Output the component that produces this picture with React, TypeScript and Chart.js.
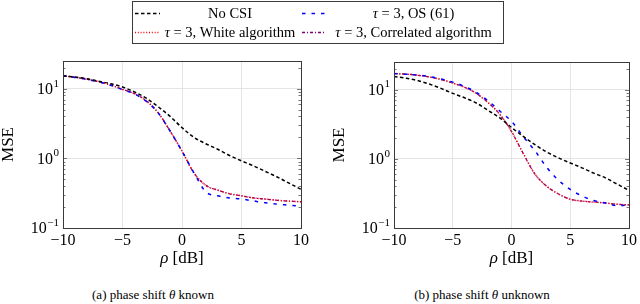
import React, { useEffect, useRef } from "react";
import { Chart, registerables } from "chart.js";

Chart.register(...registerables);

const FONT = "'Liberation Serif', 'Times New Roman', serif";

// x values (rho in dB)
const RHO = [-10, -9, -8, -7, -6, -5, -4, -3, -2, -1, 0, 1, 2, 3, 4, 5, 6, 7, 8, 9, 10];
const X_TICKS = [-10, -5, 0, 5, 10];
const Y_MAJOR = [0.1, 1, 10];
const Y_MAX = 25;

// (a) phase shift known
const A_NO_CSI = [15.3, 14.7, 13.9, 12.8, 11.8, 10.6, 9.0, 7.3, 5.5, 4.0, 2.76, 2.0, 1.62, 1.35, 1.1, 0.92, 0.78, 0.65, 0.54, 0.44, 0.36];
const A_OS = [15.3, 14.5, 13.6, 12.5, 11.2, 9.7, 8.4, 6.6, 4.5, 2.47, 1.27, 0.62, 0.33, 0.29, 0.27, 0.26, 0.245, 0.23, 0.22, 0.213, 0.206];
const A_WHITE = [15.3, 14.6, 13.7, 12.6, 11.3, 9.8, 8.5, 6.7, 4.5, 2.47, 1.27, 0.62, 0.41, 0.35, 0.31, 0.29, 0.27, 0.26, 0.25, 0.243, 0.238];
const A_CORR = [15.3, 14.6, 13.7, 12.6, 11.3, 9.8, 8.5, 6.7, 4.5, 2.47, 1.27, 0.62, 0.41, 0.35, 0.31, 0.29, 0.27, 0.26, 0.25, 0.243, 0.238];

// (b) phase shift unknown
const B_NO_CSI = [15.5, 14.6, 13.5, 12.0, 10.4, 8.8, 7.6, 6.4, 5.0, 3.9, 2.84, 2.1, 1.6, 1.25, 1.03, 0.87, 0.74, 0.62, 0.53, 0.43, 0.35];
const B_OS = [17.0, 16.7, 16.2, 15.4, 14.2, 12.8, 11.1, 9.1, 6.9, 4.9, 3.48, 2.09, 1.3, 0.75, 0.49, 0.36, 0.29, 0.25, 0.23, 0.21, 0.216];
const B_WHITE = [17.0, 16.7, 16.1, 15.2, 14.0, 12.4, 10.8, 8.8, 6.5, 4.4, 2.48, 1.19, 0.6, 0.4, 0.31, 0.26, 0.245, 0.237, 0.23, 0.22, 0.216];
const B_CORR = [17.0, 16.7, 16.1, 15.2, 14.0, 12.4, 10.8, 8.8, 6.5, 4.4, 2.48, 1.19, 0.6, 0.4, 0.31, 0.26, 0.245, 0.237, 0.23, 0.22, 0.216];

const SERIES_STYLE = [
  { label: "No CSI", color: "#000000", dash: [3.5, 2.5], width: 1.5 },
  { label: "τ = 3, OS (61)", color: "#0000ff", dash: [3.5, 6], width: 1.5 },
  { label: "τ = 3, White algorithm", color: "#ff0000", dash: [1, 1.8], width: 1.5 },
  { label: "τ = 3, Correlated algorithm", color: "#800080", dash: [3, 2, 1, 2], width: 1.3 },
];

const fmtX = (v: number) => (v < 0 ? "\u2212" + Math.abs(v) : String(v));

const framePlugin = {
  id: "frame",
  afterDraw(chart: any) {
    const { ctx, chartArea: a, scales } = chart;
    const y = scales.y;
    ctx.save();
    // minor / major ticks on left and right
    ctx.strokeStyle = "#555";
    ctx.lineWidth = 0.8;
    for (let d = -1; d <= 1; d++) {
      for (let m = 1; m <= 9; m++) {
        const v = m * Math.pow(10, d);
        if (v > Y_MAX) continue;
        const py = Math.round(y.getPixelForValue(v)) + 0.5;
        const len = m === 1 ? 4 : 2.5;
        ctx.beginPath();
        ctx.moveTo(a.left, py);
        ctx.lineTo(a.left + len, py);
        ctx.moveTo(a.right, py);
        ctx.lineTo(a.right - len, py);
        ctx.stroke();
      }
    }
    // frame
    ctx.strokeStyle = "#3a3a3a";
    ctx.lineWidth = 1;
    ctx.setLineDash([]);
    ctx.strokeRect(Math.round(a.left) + 0.5, Math.round(a.top) + 0.5, Math.round(a.right - a.left), Math.round(a.bottom - a.top));

    // y tick labels 10^k
    ctx.fillStyle = "#000";
    ctx.textBaseline = "middle";
    for (const v of Y_MAJOR) {
      const py = y.getPixelForValue(v);
      const exp = Math.round(Math.log10(v));
      const expStr = exp < 0 ? "\u2212" + Math.abs(exp) : String(exp);
      ctx.font = `11px ${FONT}`;
      const ew = ctx.measureText(expStr).width;
      const right = a.left - 4;
      ctx.textAlign = "right";
      ctx.fillText(expStr, right, py - 5);
      ctx.font = `16px ${FONT}`;
      ctx.fillText("10", right - ew - 0.5, py + 1);
    }
    // y title
    ctx.save();
    ctx.translate(a.left - 54, (a.top + a.bottom) / 2);
    ctx.rotate(-Math.PI / 2);
    ctx.textAlign = "center";
    ctx.textBaseline = "middle";
    ctx.font = `17px ${FONT}`;
    ctx.fillText("MSE", 0, 0);
    ctx.restore();

    // x title: rho [dB]
    const cx = (a.left + a.right) / 2;
    const ty = a.bottom + 31;
    ctx.textBaseline = "middle";
    ctx.textAlign = "left";
    ctx.font = `italic 17px ${FONT}`;
    const w1 = ctx.measureText("ρ").width;
    ctx.font = `17px ${FONT}`;
    const w2 = ctx.measureText(" [dB]").width;
    const x0 = cx - (w1 + w2) / 2;
    ctx.font = `italic 17px ${FONT}`;
    ctx.fillText("ρ", x0, ty);
    ctx.font = `17px ${FONT}`;
    ctx.fillText(" [dB]", x0 + w1, ty);
    ctx.restore();
  },
};

function makeConfig(values: number[][], yWidth: number, padRight: number, padTop: number, xHeight: number): any {
  return {
    type: "line",
    data: {
      datasets: values.map((vals, i) => ({
        label: SERIES_STYLE[i].label,
        data: RHO.map((x, j) => ({ x, y: vals[j] })),
        borderColor: SERIES_STYLE[i].color,
        borderDash: SERIES_STYLE[i].dash,
        borderWidth: SERIES_STYLE[i].width,
        pointRadius: 0,
        fill: false,
        cubicInterpolationMode: "monotone",
      })),
    },
    options: {
      animation: false,
      responsive: false,
      devicePixelRatio: 1,
      layout: { padding: { left: 0, right: padRight, top: padTop, bottom: 0 } },
      plugins: { legend: { display: false }, tooltip: { enabled: false } },
      scales: {
        x: {
          type: "linear",
          min: -10,
          max: 10,
          afterBuildTicks: (s: any) => {
            s.ticks = X_TICKS.map((v) => ({ value: v }));
          },
          afterFit: (s: any) => {
            s.height = xHeight;
          },
          ticks: {
            color: "#000",
            font: { family: FONT, size: 16 },
            padding: 3,
            maxRotation: 0,
            autoSkip: false,
            callback: (v: any) => fmtX(Number(v)),
          },
          grid: { color: "#dedede", drawTicks: false, lineWidth: 0.8 },
          border: { display: false },
        },
        y: {
          type: "logarithmic",
          min: 0.1,
          max: Y_MAX,
          afterFit: (s: any) => {
            s.width = yWidth;
          },
          afterBuildTicks: (s: any) => {
            s.ticks = Y_MAJOR.map((v) => ({ value: v, major: true }));
          },
          ticks: { display: false },
          grid: { color: "#dedede", drawTicks: false, lineWidth: 0.8 },
          border: { display: false },
        },
      },
    },
    plugins: [framePlugin],
  };
}

function PlotCanvas({ values, yWidth, padRight, padTop, xHeight, left, top }: any) {
  const ref = useRef<HTMLCanvasElement>(null);
  useEffect(() => {
    if (!ref.current) return;
    const chart = new Chart(ref.current, makeConfig(values, yWidth, padRight, padTop, xHeight));
    return () => chart.destroy();
  }, []);
  return (
    <canvas
      ref={ref}
      width={320}
      height={220}
      style={{ position: "absolute", left, top, width: 320, height: 220 }}
    />
  );
}

function LegendCanvas() {
  const ref = useRef<HTMLCanvasElement>(null);
  useEffect(() => {
    const c = ref.current;
    if (!c) return;
    const ctx = c.getContext("2d")!;
    ctx.clearRect(0, 0, 640, 46);
    ctx.strokeStyle = "#3a3a3a";
    ctx.lineWidth = 1;
    ctx.strokeRect(132.5, 1.5, 371, 42);
    const rows = [13.5, 32.5];
    const samples = [
      [135, 160],
      [302, 326],
    ];
    const cells = [
      [163, 297],
      [330, 497],
    ];
    SERIES_STYLE.forEach((s, i) => {
      const row = Math.floor(i / 2);
      const col = i % 2;
      const yy = rows[row];
      ctx.save();
      ctx.strokeStyle = s.color;
      ctx.lineWidth = s.width;
      ctx.setLineDash(s.dash);
      ctx.beginPath();
      ctx.moveTo(samples[col][0], yy);
      ctx.lineTo(samples[col][1], yy);
      ctx.stroke();
      ctx.restore();
      // text, tau in italic
      const segs: { t: string; it: boolean }[] = s.label.startsWith("τ")
        ? [
            { t: "τ", it: true },
            { t: s.label.slice(1), it: false },
          ]
        : [{ t: s.label, it: false }];
      let total = 0;
      for (const g of segs) {
        ctx.font = `${g.it ? "italic " : ""}14.5px ${FONT}`;
        total += ctx.measureText(g.t).width;
      }
      let x = (cells[col][0] + cells[col][1]) / 2 - total / 2;
      ctx.fillStyle = "#000";
      ctx.textBaseline = "middle";
      ctx.textAlign = "left";
      for (const g of segs) {
        ctx.font = `${g.it ? "italic " : ""}14.5px ${FONT}`;
        ctx.fillText(g.t, x, yy + 1);
        x += ctx.measureText(g.t).width;
      }
    });
  }, []);
  return <canvas ref={ref} width={640} height={46} style={{ position: "absolute", left: 0, top: 0 }} />;
}

export default function App() {
  const capStyle: React.CSSProperties = {
    position: "absolute",
    top: 287,
    fontFamily: FONT,
    fontSize: 13,
    color: "#000",
    whiteSpace: "nowrap",
    transform: "translateX(-50%)",
    lineHeight: "16px",
  };
  return (
    <div style={{ position: "absolute", left: 0, top: 0, width: 640, height: 304, background: "#fff", overflow: "hidden" }}>
      <LegendCanvas />
      <PlotCanvas values={[A_NO_CSI, A_OS, A_WHITE, A_CORR]} yWidth={63} padRight={19} padTop={11} xHeight={42} left={0} top={50} />
      <PlotCanvas values={[B_NO_CSI, B_OS, B_WHITE, B_CORR]} yWidth={74} padRight={8} padTop={12} xHeight={42} left={320} top={50} />
      <div style={{ ...capStyle, left: 153 }}>
        (a) phase shift <i>θ</i> known
      </div>
      <div style={{ ...capStyle, left: 482 }}>
        (b) phase shift <i>θ</i> unknown
      </div>
    </div>
  );
}
